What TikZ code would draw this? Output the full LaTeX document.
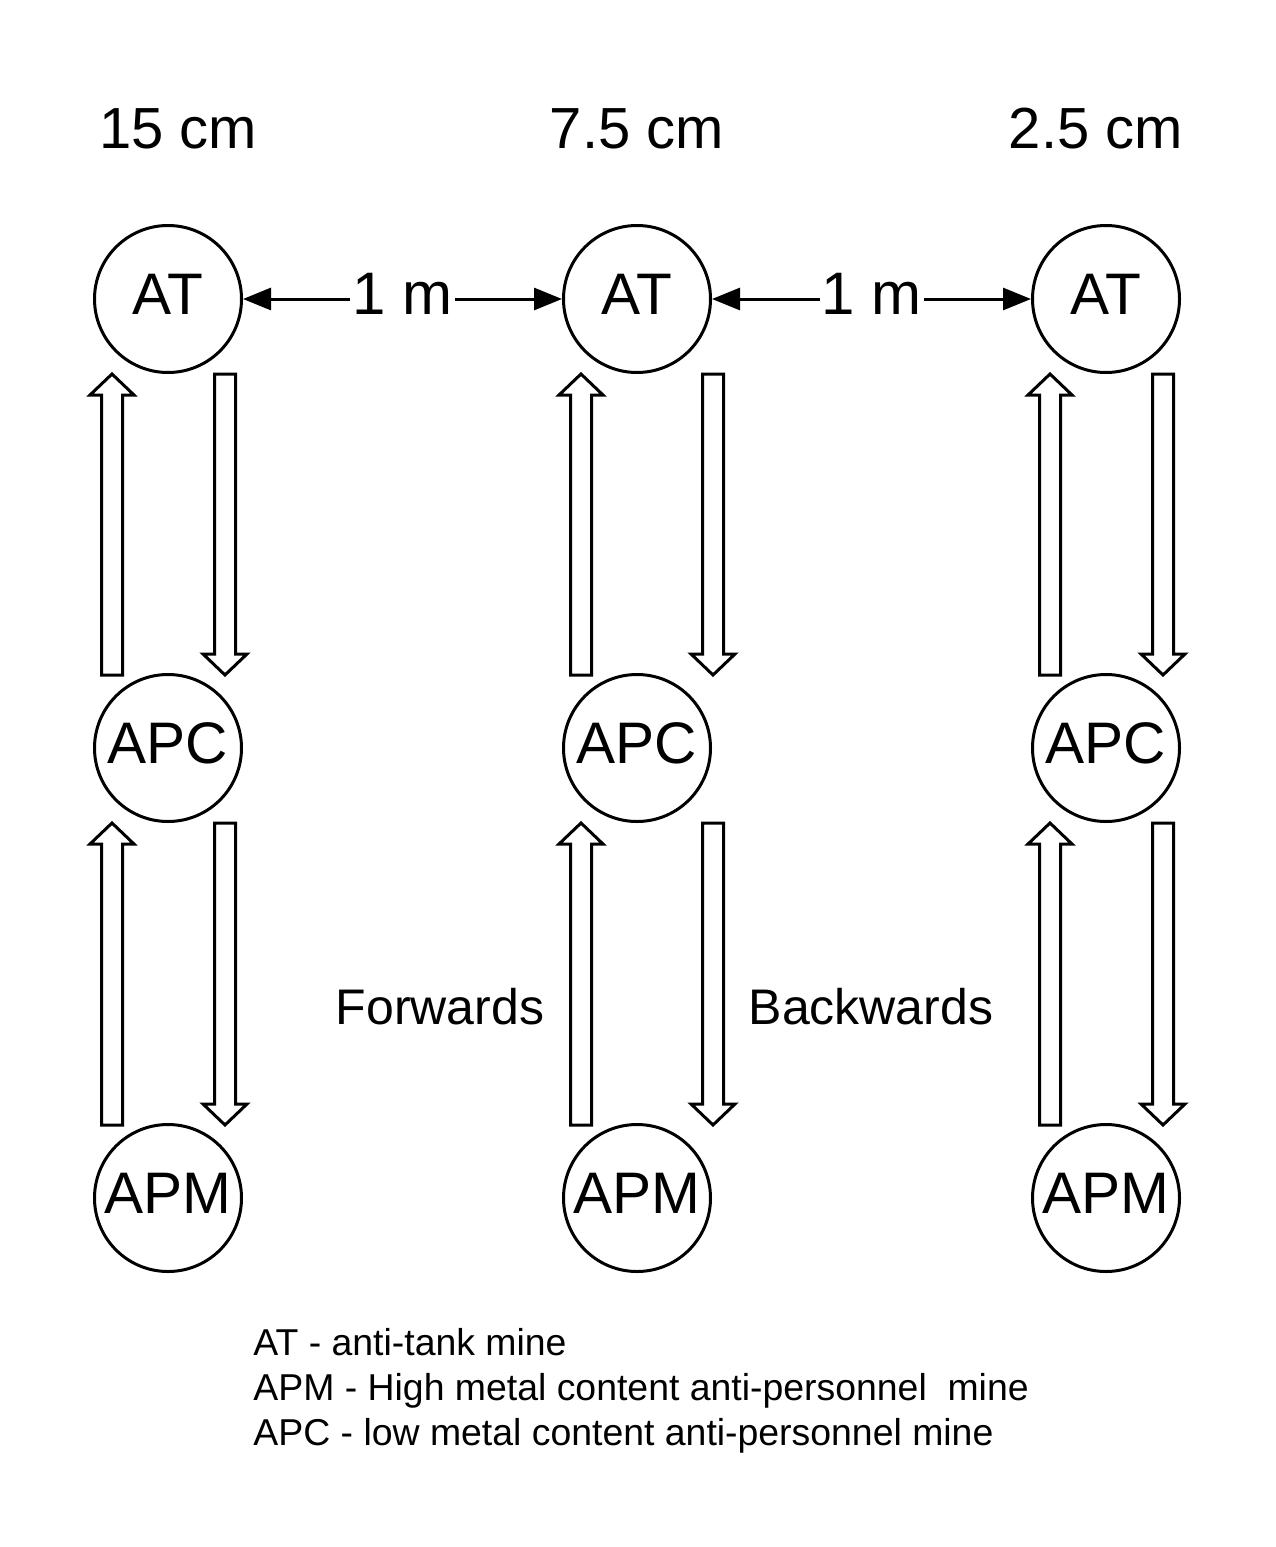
\documentclass[tikz,border=0pt]{standalone}
\usepackage{fontspec}
\setmainfont{Liberation Sans}
\usetikzlibrary{arrows.meta,calc}

% hollow block arrow from tail #1 to tip #2 (vertical)
\newcommand{\hollowarrow}[2]{%
  \draw[hollow] let \p1=(#1), \p2=(#2), \n1={sign(\y2-\y1)} in
    (\x1-5.25pt,\y1) -- (\x1-5.25pt,\y2-\n1*10.5pt) -- (\x1-11pt,\y2-\n1*10.5pt)
    -- (\x2,\y2) -- (\x1+11pt,\y2-\n1*10.5pt) -- (\x1+5.25pt,\y2-\n1*10.5pt)
    -- (\x1+5.25pt,\y1) -- cycle;}

\tikzset{
  mine/.style={draw, circle, line width=1.5pt, minimum size=73.5pt, inner sep=0pt,
    font=\fontsize{29.3}{31}\selectfont, text height=21pt, text depth=6pt},
  hollow/.style={draw, line width=1.5pt, line join=miter},
  depth/.style={font=\fontsize{29}{31}\selectfont, anchor=base},
  dist/.style={<->, line width=1.5pt, >={Triangle[length=14pt,width=11pt]}},
  distlabel/.style={fill=white, inner xsep=1pt, inner ysep=0pt,
    font=\fontsize{30}{32}\selectfont, text height=21pt, text depth=6pt},
  legend/.style={font=\fontsize{18.7}{20}\selectfont, anchor=base west, inner sep=0pt}
}

\begin{document}
\begin{tikzpicture}[x=0.5pt,y=-0.5pt]
    \useasboundingbox (0,0) rectangle (1275,1547);

    % depths
    \node[depth] (d1) at (178,148) {15 cm};
    \node[depth] (d2) at (637,148) {7.5 cm};
    \node[depth] (d3) at (1096,148) {2.5 cm};

    % mines
    \foreach \i/\x in {1/168,2/637,3/1106} {
        \node[mine] (AT\i) at (\x,299) {AT};
        \node[mine] (APC\i) at (\x,748) {APC};
        \node[mine] (APM\i) at (\x,1198) {APM};
    }

    % spacing between the lanes
    \draw[dist] (AT1) -- node[distlabel] (m1) {1 m} (AT2);
    \draw[dist] (AT2) -- node[distlabel] (m2) {1 m} (AT3);

    % forwards (up) and backwards (down)
    \foreach \i/\d in {1/57,2/76,3/57} {
        \hollowarrow{$(APC\i.north)+(-56,2)$}{$(AT\i.south)+(-56,0)$}
        \hollowarrow{$(AT\i.south)+(\d,0)$}{$(APC\i.north)+(\d,2)$}
        \hollowarrow{$(APM\i.north)+(-56,2)$}{$(APC\i.south)+(-56,0)$}
        \hollowarrow{$(APC\i.south)+(\d,0)$}{$(APM\i.north)+(\d,2)$}
    }

    \node[font=\fontsize{25}{27}\selectfont, anchor=base] (fwd) at (440,1024) {Forwards};
    \node[font=\fontsize{25}{27}\selectfont, anchor=base] (bwd) at (871,1024) {Backwards};

    % legend
    \node[legend] (l1) at (253,1355) {AT - anti-tank mine};
    \node[legend] (l2) at (253,1400) {APM - High metal content anti-personnel\ \ mine};
    \node[legend] (l3) at (253,1445) {APC - low metal content anti-personnel mine};
\end{tikzpicture}
\end{document}
